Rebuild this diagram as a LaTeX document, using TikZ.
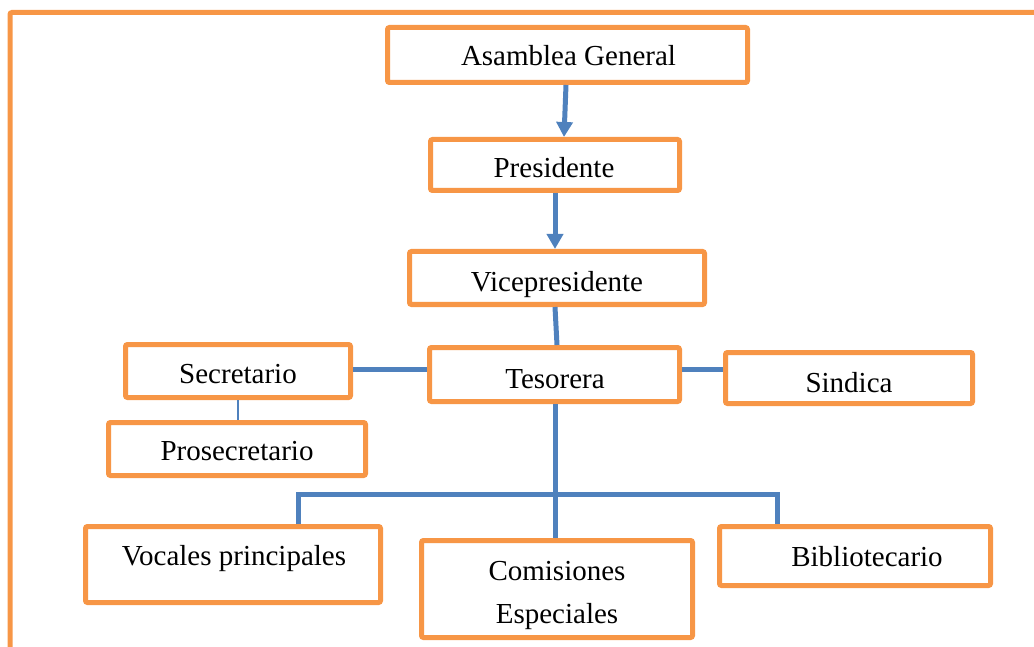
\documentclass[tikz,border=0pt]{standalone}
\usepackage{fontspec}
\setmainfont{Liberation Serif}
\usetikzlibrary{arrows.meta}
\definecolor{orgbox}{HTML}{F79646}
\definecolor{orgline}{HTML}{4F81BD}
\tikzset{
  boxnode/.style={draw=orgbox, line width=5pt, rounded corners=2pt, inner sep=0pt, fill=white},
  txt/.style={anchor=base, inner sep=0pt, font=\fontsize{29}{34}\selectfont},
  conn/.style={draw=orgline, line width=5pt},
  thinconn/.style={draw=orgline, line width=1.4pt},
  arr/.style={conn, -{Triangle[width=16pt,length=15pt]}}
}
\begin{document}
\begin{tikzpicture}[x=1pt,y=-1pt]
\useasboundingbox (0,0) rectangle (1034,647);
\clip (0,0) rectangle (1034,647);
% outer frame
\coordinate (frTR) at (1040,12.5);
\coordinate (frBL) at (10,660);
\draw[draw=orgbox, line width=5pt, rounded corners=2pt] (frTR) -- (10,12.5) -- (frBL);
% boxes
\node[boxnode, minimum width=360pt, minimum height=55pt] (asam) at (567.5,55) {};
\node[boxnode, minimum width=249pt, minimum height=51pt] (pres) at (555,165) {};
\node[boxnode, minimum width=295pt, minimum height=53pt] (vice) at (557,278) {};
\node[boxnode, minimum width=250pt, minimum height=54pt] (teso) at (554.5,374.5) {};
\node[boxnode, minimum width=225pt, minimum height=53pt] (secr) at (238,371) {};
\node[boxnode, minimum width=257pt, minimum height=53pt] (pros) at (237,449) {};
\node[boxnode, minimum width=247pt, minimum height=51pt] (sind) at (849,378) {};
\node[boxnode, minimum width=295pt, minimum height=76pt] (voca) at (233,564.5) {};
\node[boxnode, minimum width=271pt, minimum height=97pt] (comi) at (557,589) {};
\node[boxnode, minimum width=271pt, minimum height=59pt] (bibl) at (855,556) {};
% texts
\node[txt] (tasam) at (568.5,66) {Asamblea General};
\node[txt] (tpres) at (554,178) {Presidente};
\node[txt] (tvice) at (557,291) {Vicepresidente};
\node[txt] (tteso) at (555,388) {Tesorera};
\node[txt] (tsecr) at (238,383) {Secretario};
\node[txt] (tpros) at (237,460) {Prosecretario};
\node[txt] (tsind) at (849,392) {Sindica};
\node[txt] (tvoca) at (234,565) {Vocales principales};
\node[txt] (tcomi1) at (557,580) {Comisiones};
\node[txt] (tcomi2) at (557,623) {Especiales};
\node[txt] (tbibl) at (867,566) {Bibliotecario};
% connectors
\draw[arr] ([xshift=-1.5pt]asam.south) -- ([xshift=9pt]pres.north);
\draw[arr] (pres.south) -- ([xshift=-2pt]vice.north);
\draw[conn] ([xshift=-2pt]vice.south) -- ([xshift=2.5pt]teso.north);
\draw[conn] ([yshift=2pt]secr.east) -- ([yshift=5.5pt]teso.west);
\draw[conn] ([yshift=5.5pt]teso.east) -- ([yshift=9pt]sind.west);
\draw[thinconn] (secr.south) -- (secr.south |- pros.north);
\draw[conn] ([xshift=0.5pt]teso.south) -- ([xshift=-2pt]comi.north);
\draw[conn] ([xshift=65pt]voca.north) -- ++(0,-29.5) -| ([xshift=-78pt]bibl.north);
\end{tikzpicture}
\end{document}
